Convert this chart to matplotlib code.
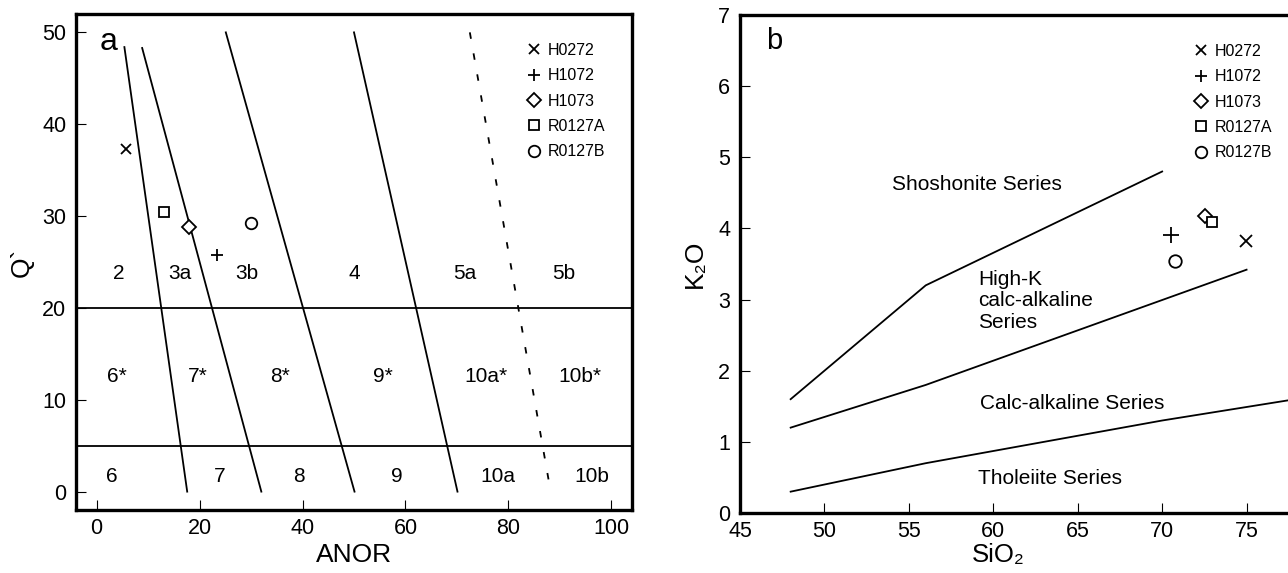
import matplotlib.pyplot as plt

plt.rcParams['font.family'] = ['Liberation Sans', 'DejaVu Sans']
plt.rcParams['mathtext.default'] = 'regular'

samples = ['H0272', 'H1072', 'H1073', 'R0127A', 'R0127B']
markers = ['x', '+', 'D', 's', 'o']

# panel a: ANOR vs Q'
anor = [5.7, 23.3, 17.9, 13.0, 30.0]
q_prime = [37.3, 25.8, 28.8, 30.4, 29.2]

# sloping field boundaries, (top, bottom) end points
bound_anor = [[5.4, 17.6], [8.85, 32.0], [25.1, 50.1], [50.0, 70.1]]
bound_q = [[48.4, 0], [48.3, 0], [50, 0], [50, 0]]
dashed_anor = [72.5, 88.2]
dashed_q = [50, 0]
q_levels = [20, 5]

top_fields = ['2', '3a', '3b', '4', '5a', '5b']
top_x = [4.4, 16.2, 29.1, 50.0, 71.6, 90.7]
mid_fields = ['6*', '7*', '8*', '9*', '10a*', '10b*']
mid_x = [3.85, 19.6, 35.6, 55.7, 75.7, 93.9]
bot_fields = ['6', '7', '8', '9', '10a', '10b']
bot_x = [2.9, 23.9, 39.3, 58.4, 77.9, 96.1]
field_y = [23.7, 12.5, 1.6]

# panel b: SiO2 vs K2O
sio2 = [74.95, 70.54, 72.56, 72.98, 70.78]
k2o = [3.82, 3.91, 4.18, 4.09, 3.54]

sho_x = [48, 56, 70]
sho_y = [1.6, 3.2, 4.8]
hk_x = [48, 56, 75]
hk_y = [1.2, 1.8, 3.42]
th_x = [48, 56, 70, 80]
th_y = [0.3, 0.7, 1.3, 1.68]

series_names = ['Shoshonite Series', 'High-K\ncalc-alkaline\nSeries',
                'Calc-alkaline Series', 'Tholeiite Series']
series_x = [54.0, 59.1, 59.2, 59.1]
series_y = [4.62, 2.98, 1.54, 0.49]

W, H = 1288, 573
fig = plt.figure(figsize=(W / 100, H / 100), dpi=100)

# axes placed in pixel units (left, bottom, right, top)
ax1 = fig.add_axes([76 / W, 1 - 510 / H, (632 - 76) / W, (510 - 14) / H])
ax2 = fig.add_axes([740 / W, 1 - 513 / H, (1331 - 740) / W, (513 - 15) / H])

for ax in (ax1, ax2):
    for sp in ax.spines.values():
        sp.set_linewidth(2.4)
    ax.tick_params(direction='in', length=7.5, width=0.8, labelsize=15.5,
                   top=False, right=False)
    ax.tick_params(axis='x', pad=6)
    ax.tick_params(axis='y', pad=7)

lw = 1.3
leg_kw = dict(loc='upper left', frameon=False, fontsize=11.5, borderpad=0,
              borderaxespad=0, handlelength=1.0, handletextpad=0.4,
              labelspacing=0.65)

# ---- panel a ----
for xs, ys in zip(bound_anor, bound_q):
    ax1.plot(xs, ys, color='black', lw=lw)
ax1.plot(dashed_anor, dashed_q, color='black', lw=lw, ls=(0, (3.6, 8.2)))
for q in q_levels:
    ax1.axhline(q, color='black', lw=lw)

for names, xs, y in zip([top_fields, mid_fields, bot_fields],
                        [top_x, mid_x, bot_x], field_y):
    for name, x in zip(names, xs):
        ax1.text(x, y, name, ha='center', va='center', fontsize=15)

ms_a = [6.5, 8.3, 7.1, 7.2, 8.3]
handles = []
for x, y, m, s, lab in zip(anor, q_prime, markers, ms_a, samples):
    h, = ax1.plot(x, y, ls='none', marker=m, ms=s, mfc='white', mec='black',
                  mew=1.3, label=lab)
    handles.append(h)

ax1.text(2.3, 48.9, 'a', fontsize=23, ha='center', va='center')
ax1.set_xlim(-4, 104)
ax1.set_ylim(-2, 52)
ax1.set_xticks([0, 20, 40, 60, 80, 100])
ax1.set_yticks([0, 10, 20, 30, 40, 50])
ax1.set_xlabel('ANOR', fontsize=19, labelpad=3)
ax1.set_ylabel('Q`', fontsize=19, labelpad=6)
ax1.legend(handles=handles, bbox_to_anchor=(0.8085, 0.942), **leg_kw)

# ---- panel b ----
for xs, ys in [(sho_x, sho_y), (hk_x, hk_y), (th_x, th_y)]:
    ax2.plot(xs, ys, color='black', lw=lw, clip_on=False)

for name, x, y in zip(series_names, series_x, series_y):
    ax2.text(x, y, name, ha='left', va='center', fontsize=15,
             linespacing=1.15)

ms_b = [9.0, 12.0, 7.6, 7.9, 9.0]
for x, y, m, s, lab in zip(sio2, k2o, markers, ms_b, samples):
    ax2.plot(x, y, ls='none', marker=m, ms=s, mfc='white', mec='black',
             mew=1.3, label=lab)

ax2.text(47.0, 6.63, 'b', fontsize=21, ha='center', va='center')
ax2.set_xlim(45, 80)
ax2.set_ylim(0, 7)
ax2.set_xticks([45, 50, 55, 60, 65, 70, 75])
ax2.set_yticks(range(0, 8))
ax2.set_xlabel('SiO₂', fontsize=18.5)
ax2.xaxis.set_label_coords(0.437, -0.061)
ax2.set_ylabel('K₂O', fontsize=19, labelpad=8)
ax2.legend(handles=handles, bbox_to_anchor=(0.766, 0.942), **leg_kw)

fig.savefig('out.png', dpi=100)
